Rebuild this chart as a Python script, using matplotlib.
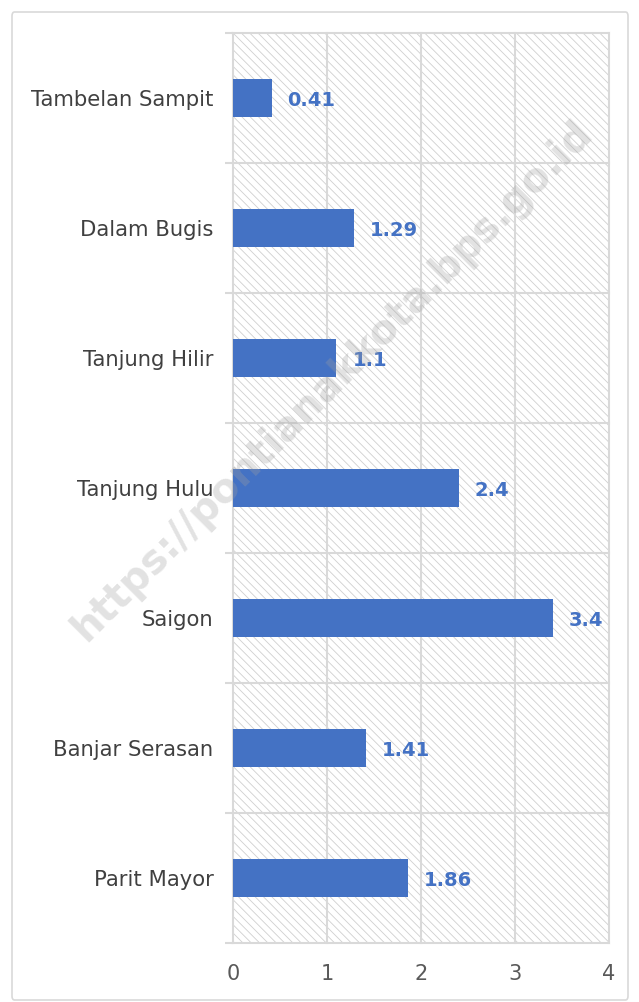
import matplotlib
matplotlib.use("Agg")
import matplotlib.pyplot as plt
from matplotlib.patches import Rectangle, FancyBboxPatch
from matplotlib.transforms import offset_copy

categories = ["Tambelan Sampit", "Dalam Bugis", "Tanjung Hilir", "Tanjung Hulu",
              "Saigon", "Banjar Serasan", "Parit Mayor"]
values = [0.41, 1.29, 1.1, 2.4, 3.4, 1.41, 1.86]
value_labels = ["0.41", "1.29", "1.1", "2.4", "3.4", "1.41", "1.86"]
xticks = [0, 1, 2, 3, 4]

plt.rcParams['font.family'] = ['DejaVu Sans']
plt.rcParams['hatch.linewidth'] = 0.6
plt.rcParams['hatch.color'] = '#cfcfcf'

fig = plt.figure(figsize=(6.39, 10.02), dpi=100)
# outer border
fig.patches.append(FancyBboxPatch((12/639, 0.002), 616/639, (1002-14)/1002,
                                  boxstyle="round,pad=0,rounding_size=0.004",
                                  transform=fig.transFigure, facecolor='white',
                                  edgecolor='#d9d9d9', linewidth=1.2, zorder=-5))

ax = fig.add_axes([233/639, 1-943/1002, 376/639, 910/1002])
ax.set_zorder(1)
n = len(categories)
ax.set_xlim(0, 4)
ax.set_ylim(n - 0.5, -0.5)

ax.patch.set_facecolor('white')
ax.add_patch(Rectangle((0, -0.5), 4, n, facecolor='none', edgecolor='#cfcfcf',
                       hatch='\\\\\\\\', linewidth=0, zorder=0.5))

# grid
for x in xticks:
    ax.axvline(x, color='#d9d9d9', linewidth=1.5, zorder=1, clip_on=False)
for b in range(n + 1):
    ax.axhline(b - 0.5, color='#d9d9d9', linewidth=1.5, zorder=1, clip_on=False)

ypos = list(range(n))
ax.barh(ypos, values, height=0.29, color='#4472C4', zorder=3)

for y, v, lab in zip(ypos, values, value_labels):
    ax.text(v, y, lab, transform=offset_copy(ax.transData, fig=fig, x=16, y=-2, units='dots'),
            ha='left', va='center', fontsize=14, fontweight='bold', color='#4472C4', zorder=4)

for s in ax.spines.values():
    s.set_visible(False)

ax.set_yticks(ypos)
ax.set_yticklabels(categories, fontsize=15.2, color='#404040')
ax.tick_params(axis='y', length=0, pad=14)
ax.set_yticks([b - 0.5 for b in range(n + 1)], minor=True)
ax.tick_params(axis='y', which='minor', length=6, color='#d9d9d9', width=1.5)

ax.set_xticks(xticks)
ax.set_xticklabels([str(t) for t in xticks], fontsize=15, color='#595959')
ax.tick_params(axis='x', length=0, pad=15)

# watermark
fig.text(0.52, 0.62, "https://pontianakkota.bps.go.id", rotation=45, fontsize=29,
         fontweight='bold', color='#a0a0a0', alpha=0.3, ha='center', va='center', zorder=10)

fig.savefig("out.png", dpi=100)
